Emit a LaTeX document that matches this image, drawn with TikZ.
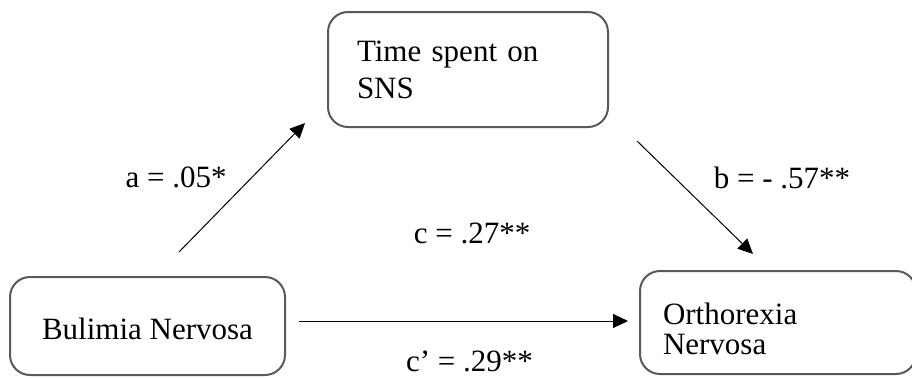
\documentclass[tikz,border=0pt]{standalone}
\usepackage{fontspec}
\setmainfont{Liberation Serif}
\usepackage{tikz}
\usetikzlibrary{arrows.meta, positioning}
\definecolor{boxgray}{RGB}{89,89,89}

\begin{document}
\begin{tikzpicture}[
      x=0.5pt, y=-0.5pt,
      font=\fontsize{15.5}{18.5}\selectfont,
      var/.style={rectangle, rounded corners=10pt, draw=boxgray, line width=1pt,
                  inner sep=0pt, align=left},
      effect/.style={-{Triangle[length=7.5pt, width=7pt]}, line width=0.5pt},
      coef/.style={anchor=base, inner sep=0pt}
    ]
    \useasboundingbox (0,0) rectangle (912,377);

    \node[var, minimum width=140pt, minimum height=57.5pt, text width=111pt]
      (sns) at (468,69.5) {Time spent on\\SNS};
    \node[var, minimum width=137.5pt, minimum height=49pt, align=center]
      (bn) at (147.5,326) {\rule{0pt}{13.6pt}Bulimia Nervosa};
    \node[var, minimum width=138pt, minimum height=51.5pt, text width=115pt,
          font=\fontsize{15.5}{15}\selectfont]
      (on) at (778,322.5) {\rule{0pt}{17.5pt}Orthorexia\\Nervosa};

    % paths
    \coordinate (a-from) at (179,252);
    \coordinate (a-to) at (305,123);
    \coordinate (b-from) at (637,141);
    \coordinate (b-to) at (753,254);
    \coordinate (c-from) at (299,321);
    \coordinate (c-to) at (628,321);
    \draw[effect] (a-from) -- (a-to);
    \draw[effect] (b-from) -- (b-to);
    \draw[effect] (c-from) -- (c-to);

    % coefficients
    \node[coef] (a) at (176,187) {a = .05*};
    \node[coef] (b) at (782,188) {b = - .57**};
    \node[coef] (c) at (472,243) {c = .27**};
    \node[coef] (cp) at (469.5,371) {c’ = .29**};
  \end{tikzpicture}
\end{document}
